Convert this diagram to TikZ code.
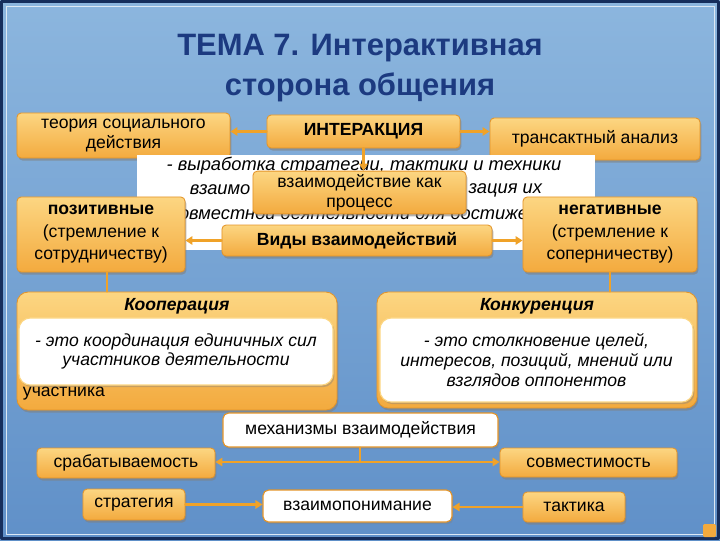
\documentclass[tikz,border=0pt]{standalone}
\usepackage{fontspec}
\setmainfont{Liberation Sans}
\usepackage{tikz}
\usetikzlibrary{arrows.meta,shadows}

\definecolor{slideTop}{RGB}{140,182,222}
\definecolor{slideBot}{RGB}{96,144,200}
\definecolor{frameNavy}{RGB}{22,46,92}
\definecolor{titleBlue}{RGB}{28,58,128}
\definecolor{boxTop}{RGB}{252,214,130}
\definecolor{boxBot}{RGB}{243,170,62}
\definecolor{boxEdge}{RGB}{228,148,40}
\definecolor{linkOrange}{RGB}{240,162,40}

\tikzset{
  orangebox/.style={draw=boxEdge, line width=0.6pt, rounded corners=3pt,
    top color=boxTop, bottom color=boxBot,
    drop shadow={shadow xshift=1pt, shadow yshift=-1.8pt, opacity=.6},
    align=center, inner sep=2pt, font=\fontsize{12.5}{14.5}\selectfont},
  whitebox/.style={draw=boxEdge, line width=0.8pt, rounded corners=4pt, fill=white,
    drop shadow={shadow xshift=1pt, shadow yshift=-1.5pt, opacity=.4},
    align=center, inner sep=2pt, font=\fontsize{12.5}{14.5}\selectfont},
  bigbox/.style={orangebox, rounded corners=8pt},
  innerbox/.style={whitebox, draw=boxTop, rounded corners=8pt,
    font=\fontsize{12.5}{14}\selectfont\itshape},
  deftext/.style={font=\fontsize{13}{14.5}\selectfont\itshape, inner sep=1pt},
  link/.style={draw=linkOrange, line width=1.6pt, -{Triangle[length=5pt,width=6pt]}},
  plainlink/.style={draw=linkOrange, line width=1.6pt}
}

\begin{document}
\begin{tikzpicture}[x=0.025cm, y=-0.025cm, line cap=round, line join=round]

\useasboundingbox (0,0) rectangle (720,540);

% Фон слайда
\shade[top color=slideTop, bottom color=slideBot] (0,0) rectangle (720,540);
\draw[frameNavy, line width=2.5pt] (1.5,1.5) rectangle (718.5,538.5);
\draw[white!70!slideTop, line width=0.4pt] (6,6) rectangle (714,534);

% Заголовок
\node[text=titleBlue, align=center, font=\fontsize{22}{29}\selectfont\bfseries]
  (title) at (360,68) {ТЕМА 7. Интерактивная\\сторона общения};

% Верхний ряд
\node[orangebox, minimum width=5.325cm, minimum height=1.125cm]
  (theory) at (123.5,135.5) {теория социального\\действия};
\node[orangebox, minimum width=4.825cm, minimum height=0.825cm, font=\fontsize{12.5}{14.5}\selectfont\bfseries]
  (inter) at (363.5,131.5) {ИНТЕРАКЦИЯ};
\node[orangebox, minimum width=5.25cm, minimum height=1.05cm]
  (trans) at (595,139) {трансактный анализ};

% Белый блок с определением
\node[fill=white, minimum width=11.45cm, minimum height=2.375cm] (def) at (366,202.5) {};
\node[deftext] (defA) at (364,166) {- выработка стратегии, тактики и техники};
\node[deftext] (defC) at (364,213) {совместной деятельности для достижения};

\node[orangebox, minimum width=5.325cm, minimum height=1.025cm]
  (proc) at (359.5,192.5) {взаимодействие как\\процесс};
\node[deftext, anchor=east] (defB1) at (252,190) {взаимо};
\node[deftext, anchor=west] (defB2) at (467,190) {зация их};

% Второй ряд
\node[orangebox, minimum width=4.2cm, minimum height=1.875cm, font=\fontsize{12.5}{16}\selectfont]
  (pos) at (101,234.5) {\textbf{позитивные}\\(стремление к\\сотрудничеству)};
\node[orangebox, minimum width=4.35cm, minimum height=1.875cm, font=\fontsize{12.5}{16}\selectfont]
  (neg) at (610,234.5) {\textbf{негативные}\\(стремление к\\соперничеству)};
\node[orangebox, minimum width=6.75cm, minimum height=0.775cm, font=\fontsize{12.5}{14.5}\selectfont\bfseries]
  (vidy) at (357,240.5) {Виды взаимодействий};

% Кооперация и конкуренция
\node[bigbox, minimum width=8cm, minimum height=2.95cm] (coop) at (177,351) {};
\node[font=\fontsize{12.5}{14}\selectfont\bfseries\itshape] (coopHead) at (177,306) {Кооперация};
\node[anchor=west, font=\fontsize{12.5}{14}\selectfont] (coopTail) at (18,394) {участника};
\node[innerbox, minimum width=7.85cm, minimum height=1.675cm]
  (coopIn) at (176,351.5) {- это координация единичных сил\\участников деятельности};

\node[bigbox, minimum width=8cm, minimum height=2.9cm] (comp) at (537,350) {};
\node[font=\fontsize{12.5}{14}\selectfont\bfseries\itshape] (compHead) at (537,306) {Конкуренция};
\node[innerbox, minimum width=7.825cm, minimum height=2.1cm, font=\fontsize{12.5}{14.5}\selectfont\itshape]
  (compIn) at (536.5,360) {- это столкновение целей,\\интересов, позиций, мнений или\\взглядов оппонентов};

% Механизмы
\node[whitebox, minimum width=6.875cm, minimum height=0.85cm] (mech) at (360.5,430) {механизмы взаимодействия};
\node[orangebox, minimum width=4.45cm, minimum height=0.75cm] (srab) at (126,463) {срабатываемость};
\node[orangebox, minimum width=4.425cm, minimum height=0.725cm] (sovm) at (588.5,462.5) {совместимость};
\node[orangebox, minimum width=2.55cm, minimum height=0.775cm] (strat) at (134,504.5) {стратегия};
\node[whitebox, minimum width=4.725cm, minimum height=0.8cm] (vzp) at (357.5,506) {взаимопонимание};
\node[orangebox, minimum width=2.55cm, minimum height=0.75cm] (takt) at (574,507) {тактика};

% Кнопка в углу
\fill[boxBot, rounded corners=1pt] (703,524) rectangle (716,537);

% Связи
\draw[link] (inter) -- (inter -| theory.east);
\draw[link] (inter) -- (inter -| trans.west);
\draw[link] (inter.south) -- (inter.south |- proc.north);
\draw[link] (vidy) -- (vidy -| pos.east);
\draw[link] (vidy) -- (vidy -| neg.west);
\draw[plainlink] (pos.south -| 107,0) -- (coop.north -| 107,0);
\draw[plainlink] (neg.south) -- (neg.south |- comp.north);

\coordinate (mj) at (360,462);
\draw[plainlink] (mech.south -| mj) -- (mj);
\draw[link] (mj) -- (mj -| srab.east);
\draw[link] (mj) -- (mj -| sovm.west);
\draw[link] (strat) -- (strat -| vzp.west);
\draw[link] (takt) -- (takt -| vzp.east);

\end{tikzpicture}
\end{document}
